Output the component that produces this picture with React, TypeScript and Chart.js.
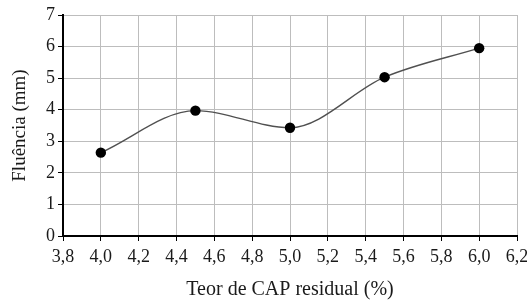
import React, { useEffect, useRef } from "react";
import { Chart, registerables } from "chart.js";

Chart.register(...registerables);

const teorCAP = [4.0, 4.5, 5.0, 5.5, 6.0];
const fluencia = [2.64, 3.97, 3.43, 5.03, 5.95];
const xTitle = "Teor de CAP residual (%)";
const yTitle = "Fluência (mm)";
const FONT = "'Liberation Serif', 'Times New Roman', serif";

export default function App() {
  const ref = useRef<HTMLCanvasElement>(null);
  useEffect(() => {
    if (!ref.current) return;
    const chart = new Chart(ref.current, {
      type: "line",
      data: {
        datasets: [
          {
            data: teorCAP.map((x, i) => ({ x, y: fluencia[i] })),
            borderColor: "#505050",
            borderWidth: 1.4,
            cubicInterpolationMode: "monotone",
            pointRadius: 5.2,
            pointBackgroundColor: "#000000",
            pointBorderColor: "#000000",
            pointBorderWidth: 0,
            fill: false,
          },
        ],
      },
      options: {
        responsive: false,
        animation: false,
        layout: { padding: { top: 15, right: 10, left: 0, bottom: 0 } },
        plugins: { legend: { display: false }, tooltip: { enabled: false } },
        scales: {
          x: {
            type: "linear",
            min: 3.8,
            max: 6.2,
            ticks: {
              stepSize: 0.2,
              color: "#1a1a1a",
              padding: 5,
              font: { family: FONT, size: 18 },
              callback: (v: any) => Number(v).toFixed(1).replace(".", ","),
            },
            grid: { color: "#bdbdbd", lineWidth: 1, tickColor: "#000", tickLength: 5 },
            border: { color: "#000", width: 2 },
            title: {
              display: true,
              text: xTitle,
              color: "#1a1a1a",
              font: { family: FONT, size: 20 },
              padding: { top: 2, bottom: 0 },
            },
            afterFit: (s: any) => {
              s.height = 66;
              s.paddingLeft = 0;
              s.paddingRight = 0;
            },
          },
          y: {
            type: "linear",
            min: 0,
            max: 7,
            ticks: {
              stepSize: 1,
              color: "#1a1a1a",
              padding: 3,
              font: { family: FONT, size: 18 },
            },
            grid: { color: "#bdbdbd", lineWidth: 1, tickColor: "#000", tickLength: 5 },
            border: { color: "#000", width: 2 },
            title: {
              display: true,
              text: yTitle,
              color: "#1a1a1a",
              font: { family: FONT, size: 19 },
              padding: { top: 9, bottom: 4 },
            },
            afterFit: (s: any) => {
              s.width = 63;
              s.paddingTop = 0;
              s.paddingBottom = 0;
            },
          },
        },
      },
    });
    return () => chart.destroy();
  }, []);
  return (
    <div style={{ position: "absolute", left: 0, top: 0, width: 527, height: 302, background: "#fff" }}>
      <canvas ref={ref} width={527} height={302} style={{ display: "block" }} />
    </div>
  );
}
